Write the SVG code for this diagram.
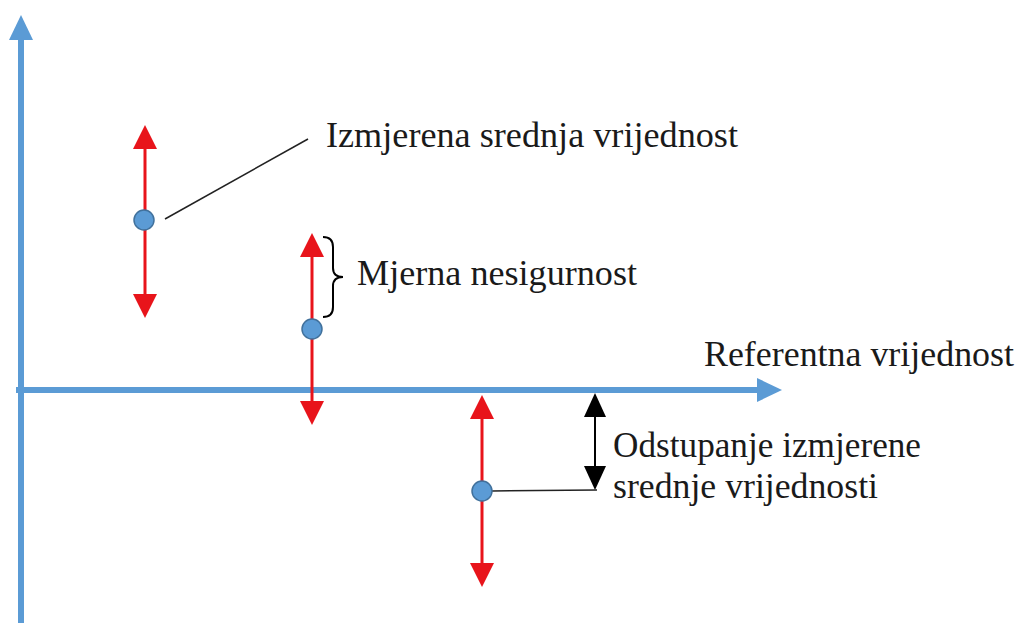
<svg xmlns="http://www.w3.org/2000/svg" width="1022" height="623" viewBox="0 0 1022 623">
<defs>
<style>
.axis{stroke:#5B9BD5;stroke-width:6;fill:none}
.err{stroke:#E8141B;stroke-width:3;fill:none;marker-start:url(#hr);marker-end:url(#hr)}
.dev{stroke:#000;stroke-width:2;fill:none;marker-start:url(#hk);marker-end:url(#hk)}
.lead{stroke:#222;stroke-width:1.5;fill:none}
.dot{fill:#5B9BD5;stroke:#41719C;stroke-width:1.5}
.lbl{font-family:"Liberation Serif","Times New Roman",serif;font-size:35px;fill:#1a1a1a}
</style>
<marker id="hr" markerUnits="userSpaceOnUse" markerWidth="24" markerHeight="24" refX="0" refY="12" orient="auto-start-reverse" viewBox="0 0 24 24"><path d="M0,0 L24,12 L0,24 z" fill="#E8141B"/></marker>
<marker id="hk" markerUnits="userSpaceOnUse" markerWidth="24" markerHeight="22" refX="0" refY="11" orient="auto-start-reverse" viewBox="0 0 24 22"><path d="M0,0 L24,11 L0,22 z" fill="#000"/></marker>
<marker id="hb" markerUnits="userSpaceOnUse" markerWidth="25" markerHeight="24" refX="0" refY="12" orient="auto" viewBox="0 0 25 24"><path d="M0,0 L25,12 L0,24 z" fill="#5B9BD5"/></marker>
</defs>
<rect width="1022" height="623" fill="#fff"/>
<g id="connectors">
<line id="y-axis" class="axis" x1="21" y1="623" x2="21" y2="40" marker-end="url(#hb)"/>
<line id="x-axis" class="axis" x1="16" y1="390" x2="757" y2="390" marker-end="url(#hb)"/>
<line class="err" x1="145" y1="149" x2="145" y2="294"/>
<line class="err" x1="312" y1="257" x2="312" y2="401"/>
<line class="err" x1="482" y1="419" x2="482" y2="563"/>
<line class="dev" x1="595" y1="417" x2="595" y2="466"/>
<line class="lead" x1="165" y1="219" x2="308" y2="139"/>
<line class="lead" x1="492" y1="491" x2="597" y2="490"/>
<path class="lead" style="stroke:#000;stroke-width:2" d="M323,237 Q333,237 333,247 L333,268 Q333,277 343,277 Q333,277 333,286 L333,307 Q333,317 323,317"/>
</g>
<g id="point1"><circle class="dot" cx="144" cy="220" r="10"/></g>
<g id="point2"><circle class="dot" cx="312" cy="329" r="10"/></g>
<g id="point3"><circle class="dot" cx="482" cy="491" r="10"/></g>
<g id="label-mean"><text class="lbl" x="326" y="147" textLength="412" lengthAdjust="spacingAndGlyphs">Izmjerena srednja vrijednost</text></g>
<g id="label-uncertainty"><text class="lbl" x="357" y="285" textLength="280" lengthAdjust="spacingAndGlyphs">Mjerna nesigurnost</text></g>
<g id="label-reference"><text class="lbl" x="704" y="366" textLength="310" lengthAdjust="spacingAndGlyphs">Referentna vrijednost</text></g>
<g id="label-deviation"><text class="lbl" x="613" y="457" textLength="308" lengthAdjust="spacingAndGlyphs">Odstupanje izmjerene</text><text class="lbl" x="613" y="498" textLength="265" lengthAdjust="spacingAndGlyphs">srednje vrijednosti</text></g>
</svg>
